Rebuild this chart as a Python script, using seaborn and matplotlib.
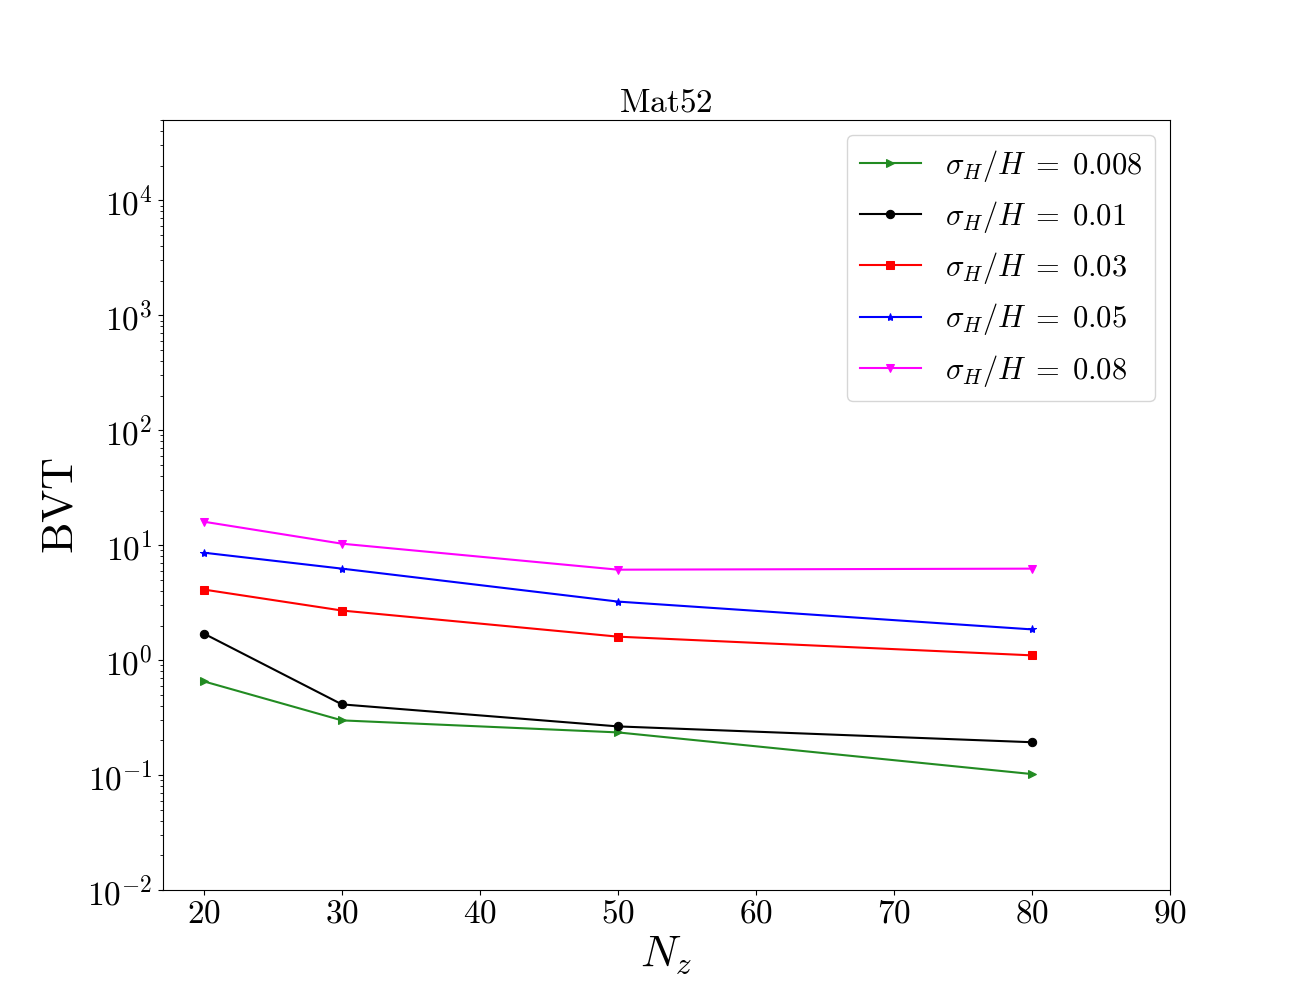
import numpy as np
import pandas as pd
import seaborn as sns
import matplotlib as mpl
from matplotlib import pyplot as plt

plt.rcParams['font.family'] = 'serif'
plt.rcParams['font.serif'] = ['cmr10', 'DejaVu Serif']
plt.rcParams['mathtext.fontset'] = 'cm'
plt.rcParams['axes.formatter.use_mathtext'] = True
plt.rcParams['axes.unicode_minus'] = False

nz = [20, 30, 50, 80]
sigma_labels = ['0.008', '0.01', '0.03', '0.05', '0.08']
bvt_0008 = [0.653, 0.299, 0.235, 0.102]
bvt_001 = [1.70, 0.412, 0.265, 0.193]
bvt_003 = [4.11, 2.70, 1.60, 1.10]
bvt_005 = [8.6, 6.25, 3.23, 1.85]
bvt_008 = [16.0, 10.3, 6.12, 6.25]

series = [bvt_0008, bvt_001, bvt_003, bvt_005, bvt_008]
colors = ['forestgreen', 'black', 'red', 'blue', 'magenta']
markers = ['>', 'o', 's', '*', 'v']

fig, ax = plt.subplots(figsize=(13, 10))
for vals, lab, col, mk in zip(series, sigma_labels, colors, markers):
    df = pd.DataFrame({'Nz': nz, 'BVT': vals})
    sns.lineplot(data=df, x='Nz', y='BVT', color=col, marker=mk,
                 markersize=6, markeredgecolor=col, linewidth=1.5,
                 label=r'$\sigma_H/H\;=\;%s$' % lab, ax=ax)

ax.set_yscale('log')
ax.set_ylim(1e-2, 5e4)
ax.set_xlim(17, 90)
ax.set_xticks([20, 30, 40, 50, 60, 70, 80, 90])
ax.tick_params(axis='both', labelsize=24)
ax.set_xlabel(r'$N_z$', fontsize=32)
ax.set_ylabel(r'$\mathrm{BVT}$', fontsize=32)
ax.set_title(r'$\mathrm{Mat52}$', fontsize=24)
ax.legend(loc='upper right', fontsize=22)

fig.savefig('out.png', dpi=100)
